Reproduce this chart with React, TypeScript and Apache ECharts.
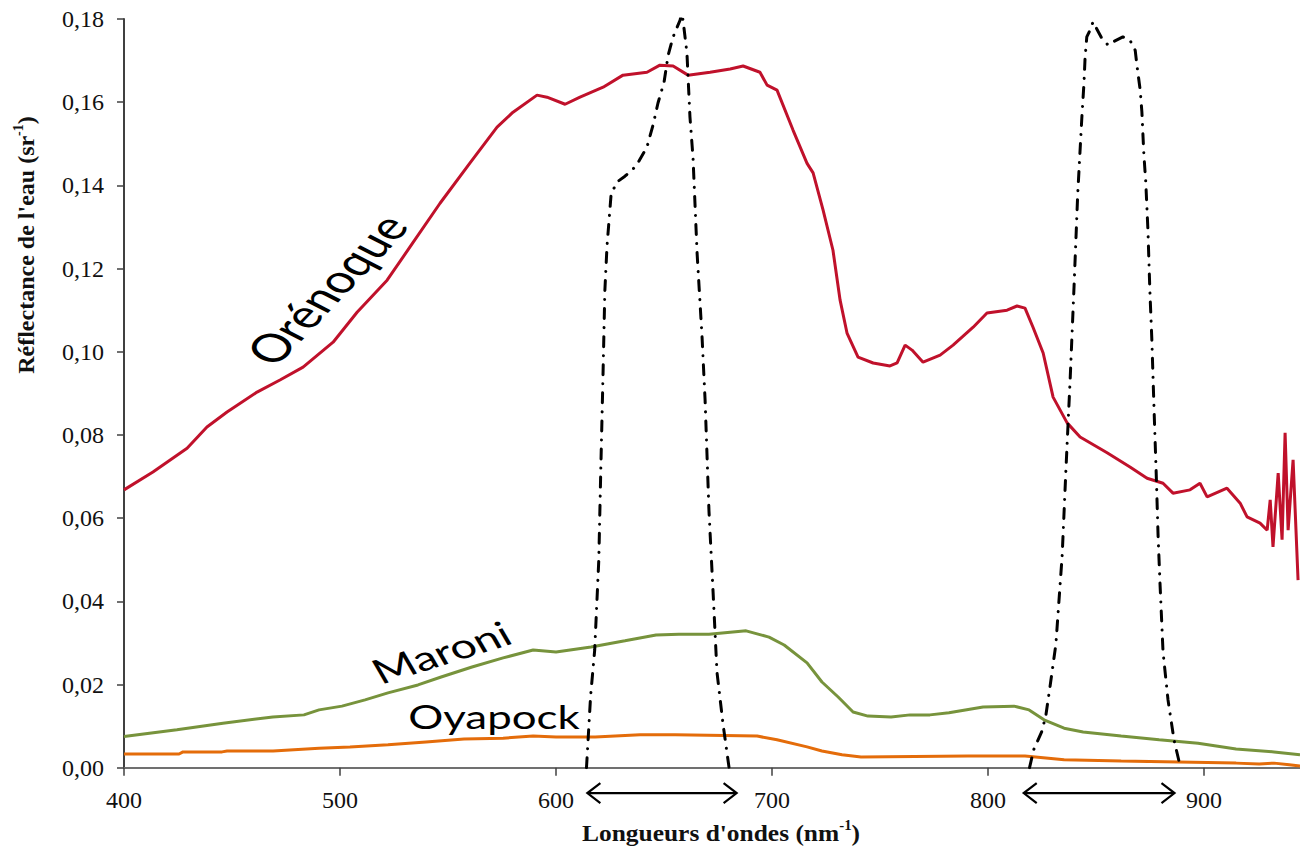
import React, { useEffect, useRef } from "react";
import * as echarts from "echarts";

// Orénoque (red)
const orenoqueNm = [400, 413.4, 429.2, 438.4, 447.7, 461.6, 472.2, 482.9, 496.8, 507.9, 521.8, 532.4, 546.3, 560.2, 572.7, 580.1, 591.2, 595.8, 604.2, 611.1, 621.8, 631.0, 642.1, 648.1, 654.2, 661.1, 671.3, 680.6, 686.6, 694.4, 697.7, 702.3, 709.7, 716.2, 719.0, 723.6, 728.2, 731.5, 734.7, 739.8, 746.8, 754.6, 757.9, 761.6, 764.8, 769.9, 777.8, 783.8, 793.1, 799.5, 808.8, 813.4, 817.1, 820.8, 825.5, 830.1, 836.6, 842.6, 855.1, 865.7, 873.6, 881.0, 885.6, 893.5, 898.1, 901.4, 910.6, 916.7, 919.9, 925.9, 929.2, 930.6, 931.9, 934.3, 936.1, 937.5, 938.9, 941.2, 943.5];
const orenoqueR = [0.0668, 0.0711, 0.0768, 0.0819, 0.0855, 0.0903, 0.0932, 0.0963, 0.1023, 0.1095, 0.1172, 0.1252, 0.1357, 0.1454, 0.1540, 0.1576, 0.1617, 0.1612, 0.1595, 0.1612, 0.1636, 0.1665, 0.1672, 0.1689, 0.1687, 0.1665, 0.1672, 0.1680, 0.1687, 0.1672, 0.1641, 0.1629, 0.1533, 0.1453, 0.1430, 0.1341, 0.1244, 0.1124, 0.1045, 0.0987, 0.0973, 0.0966, 0.0973, 0.1016, 0.1004, 0.0975, 0.0992, 0.1016, 0.1059, 0.1093, 0.1100, 0.1110, 0.1105, 0.1059, 0.0997, 0.0891, 0.0829, 0.0795, 0.0757, 0.0723, 0.0696, 0.0684, 0.0660, 0.0668, 0.0684, 0.0651, 0.0672, 0.0636, 0.0603, 0.0588, 0.0571, 0.0644, 0.0531, 0.0708, 0.0548, 0.0805, 0.0571, 0.0740, 0.0451];

// Maroni (green)
const maroniNm = [400, 424.5, 445.8, 468.9, 483.3, 490.3, 500.9, 511.6, 522.2, 536.1, 546.8, 561.1, 575.5, 589.4, 600.0, 616.2, 631.9, 646.3, 656.9, 670.8, 688.0, 698.6, 705.6, 716.2, 723.1, 730.6, 737.5, 744.4, 755.1, 763.9, 773.1, 781.9, 797.7, 812.0, 819.0, 825.9, 835.2, 844.0, 861.6, 879.2, 897.2, 914.8, 932.4, 944.4];
const maroniR = [0.0075, 0.0091, 0.0107, 0.0122, 0.0127, 0.0139, 0.0148, 0.0163, 0.0180, 0.0199, 0.0218, 0.0242, 0.0264, 0.0283, 0.0278, 0.0290, 0.0305, 0.0319, 0.0321, 0.0321, 0.0329, 0.0314, 0.0295, 0.0252, 0.0206, 0.0170, 0.0134, 0.0124, 0.0122, 0.0127, 0.0127, 0.0132, 0.0146, 0.0148, 0.0139, 0.0115, 0.0095, 0.0086, 0.0076, 0.0067, 0.0059, 0.0045, 0.0038, 0.0031];

// Oyapock (orange)
const oyapockNm = [400, 425.5, 427.3, 445.4, 447.7, 469.0, 490.3, 504.6, 522.2, 539.8, 557.4, 575.5, 589.4, 600.0, 618.1, 638.9, 655.1, 693.1, 702.3, 716.2, 723.1, 732.4, 741.2, 790.7, 817.1, 835.2, 861.6, 914.8, 925.5, 932.4, 939.4, 944.4];
const oyapockR = [0.0033, 0.0033, 0.0038, 0.0038, 0.0040, 0.0040, 0.0047, 0.0050, 0.0055, 0.0062, 0.0069, 0.0071, 0.0076, 0.0074, 0.0074, 0.0079, 0.0079, 0.0076, 0.0067, 0.0050, 0.0040, 0.0031, 0.0026, 0.0028, 0.0028, 0.0019, 0.0016, 0.0011, 0.0009, 0.0011, 0.0007, 0.0004];

// Filter responses (dash-dot, scaled)
const filterRedNm = [614.1, 616.0, 617.9, 619.8, 620.7, 621.7, 622.6, 623.6, 625.5, 628.2, 631.9, 637.0, 642.1, 644.9, 647.2, 650.0, 651.9, 654.2, 657.4, 658.1, 658.8, 660.6, 662.0, 663.4, 665.3, 667.6, 669.0, 670.8, 672.7, 674.5, 677.3, 680.1];
const filterRedR = [0, 0.0172, 0.0283, 0.0500, 0.0713, 0.0934, 0.1147, 0.1254, 0.1379, 0.1408, 0.1422, 0.1446, 0.1492, 0.1545, 0.1598, 0.1648, 0.1713, 0.1757, 0.1797, 0.1812, 0.1797, 0.1718, 0.1564, 0.1468, 0.1237, 0.1035, 0.0884, 0.0617, 0.0422, 0.0230, 0.0105, 0];
const filterNirNm = [819.2, 821.1, 824.8, 826.7, 828.6, 831.4, 834.3, 836.1, 838.0, 839.8, 841.5, 843.4, 844.4, 844.9, 845.7, 847.2, 848.6, 852.6, 855.6, 857.9, 862.4, 865.7, 868.1, 869.0, 870.4, 871.2, 872.1, 873.0, 874.0, 874.9, 875.8, 876.8, 877.8, 878.7, 879.6, 881.0, 883.3, 886.1, 889.1];
const filterNirR = [0, 0.0043, 0.0086, 0.0124, 0.0192, 0.0297, 0.0510, 0.0723, 0.0934, 0.1157, 0.1379, 0.1562, 0.1646, 0.1706, 0.1757, 0.1773, 0.1793, 0.1754, 0.1737, 0.1745, 0.1757, 0.1749, 0.1725, 0.1685, 0.1630, 0.1577, 0.1476, 0.1408, 0.1293, 0.1147, 0.1031, 0.0867, 0.0713, 0.0558, 0.0442, 0.0278, 0.0163, 0.0066, 0];

// Band ranges shown by the double arrows below the axis (nm)
const bandArrows = [
  [614.5, 683.6],
  [816.5, 886.3],
];
const arrowLevel = -0.0061;

const X_MIN = 400;
const X_MAX = 944.4;
const SERIF = "'Liberation Serif', 'Times New Roman', serif";
const SANS = "Lato, 'Open Sans', sans-serif";
const STRETCH = 1.37;

const pairs = (xs: number[], ys: number[]) => xs.map((x, i) => [x, ys[i]]);

export default function App() {
  const ref = useRef<HTMLDivElement>(null);

  useEffect(() => {
    if (!ref.current) return;
    const chart = echarts.init(ref.current, null, { renderer: "svg" });
    const dashStyle = {
      color: "#000",
      width: 3,
      type: [10, 9, 0.1, 9] as any,
      cap: "round" as any,
    };
    chart.setOption({
      animation: false,
      backgroundColor: "#fff",
      textStyle: { fontFamily: SERIF },
      grid: { left: 124, right: 0, top: 19, bottom: 79.3, containLabel: false },
      xAxis: [
        {
          type: "value",
          min: X_MIN,
          max: X_MAX,
          interval: 100,
          axisLine: { show: true, onZero: false, lineStyle: { color: "#404040", width: 2 } },
          axisTick: { show: true, inside: false, length: 8, lineStyle: { color: "#404040", width: 1.5 } },
          axisLabel: { showMaxLabel: false, margin: 20, fontSize: 24, color: "#111", fontFamily: SERIF },
          splitLine: { show: false },
        },
        {
          type: "value",
          position: "top",
          min: X_MIN,
          max: X_MAX,
          interval: 100,
          axisLine: { show: true, lineStyle: { color: "#808080", width: 1.5 } },
          axisTick: { show: false },
          axisLabel: { show: false },
          splitLine: { show: false },
        },
      ],
      yAxis: {
        type: "value",
        min: 0,
        max: 0.18,
        interval: 0.02,
        axisLine: { show: true, onZero: false, lineStyle: { color: "#404040", width: 2 } },
        axisTick: { show: true, inside: false, length: 7, lineStyle: { color: "#404040", width: 1.5 } },
        axisLabel: {
          margin: 20,
          fontSize: 24,
          color: "#111",
          fontFamily: SERIF,
          formatter: (v: number) => v.toFixed(2).replace(".", ","),
        },
        splitLine: { show: false },
      },
      series: [
        {
          name: "Orénoque",
          type: "line",
          data: pairs(orenoqueNm, orenoqueR),
          showSymbol: false,
          symbol: "none",
          lineStyle: { color: "#C0112B", width: 3 },
        },
        {
          name: "Maroni",
          type: "line",
          data: pairs(maroniNm, maroniR),
          showSymbol: false,
          symbol: "none",
          lineStyle: { color: "#77933C", width: 3 },
        },
        {
          name: "Oyapock",
          type: "line",
          data: pairs(oyapockNm, oyapockR),
          showSymbol: false,
          symbol: "none",
          lineStyle: { color: "#E46C0A", width: 3 },
        },
        {
          name: "Filtre rouge",
          type: "line",
          data: pairs(filterRedNm, filterRedR),
          showSymbol: false,
          symbol: "none",
          lineStyle: dashStyle,
        },
        {
          name: "Filtre PIR",
          type: "line",
          data: pairs(filterNirNm, filterNirR),
          showSymbol: false,
          symbol: "none",
          lineStyle: dashStyle,
        },
      ],
    });

    const arrowEls: any[] = [];
    bandArrows.forEach(([a, b]) => {
      const p1 = chart.convertToPixel({ seriesIndex: 0 }, [a, arrowLevel]) as number[];
      const p2 = chart.convertToPixel({ seriesIndex: 0 }, [b, arrowLevel]) as number[];
      const y = p1[1];
      const style = { stroke: "#000", lineWidth: 2.2, fill: null, lineJoin: "miter" };
      arrowEls.push({ type: "polyline", shape: { points: [[p1[0] + 1, y], [p2[0] - 1, y]] }, style });
      arrowEls.push({ type: "polyline", shape: { points: [[p1[0] + 13, y - 10], [p1[0], y], [p1[0] + 13, y + 10]] }, style });
      arrowEls.push({ type: "polyline", shape: { points: [[p2[0] - 13, y - 10], [p2[0], y], [p2[0] - 13, y + 10]] }, style });
    });

    const titleRich = {
      a: { fontFamily: SERIF, fontSize: 24, fontWeight: "bold", fill: "#111", lineHeight: 30 },
      s: { fontFamily: SERIF, fontSize: 14, fontWeight: "bold", fill: "#111", verticalAlign: "top", lineHeight: 30 },
    };

    chart.setOption({
      graphic: [
        ...arrowEls,
        {
          type: "text",
          x: 26,
          y: 245,
          rotation: Math.PI / 2,
          style: {
            text: "{a|Réflectance de l'eau (sr}{s|-1}{a|)}",
            rich: titleRich,
            align: "center",
            verticalAlign: "middle",
          },
        },
        {
          type: "group",
          x: 721,
          y: 833,
          scaleX: 1.06,
          children: [
            {
              type: "text",
              x: 0,
              y: 0,
              style: {
                text: "{a|Longueurs d'ondes (nm}{s|-1}{a|)}",
                rich: titleRich,
                align: "center",
                verticalAlign: "middle",
              },
            },
          ],
        },
        {
          type: "group",
          x: 0,
          y: 0,
          scaleX: STRETCH,
          children: [
            {
              type: "text",
              x: 326 / STRETCH,
              y: 289,
              rotation: (55 * Math.PI) / 180,
              style: { text: "Orénoque", font: `39px ${SANS}`, fill: "#000", align: "center", verticalAlign: "middle" },
            },
            {
              type: "text",
              x: 441 / STRETCH,
              y: 652,
              rotation: (23 * Math.PI) / 180,
              style: { text: "Maroni", font: `34px ${SANS}`, fill: "#000", align: "center", verticalAlign: "middle" },
            },
            {
              type: "text",
              x: 494 / STRETCH,
              y: 716,
              style: { text: "Oyapock", font: `32px ${SANS}`, fill: "#000", align: "center", verticalAlign: "middle" },
            },
          ],
        },
      ],
    });

    return () => chart.dispose();
  }, []);

  return (
    <div
      ref={ref}
      style={{ position: "fixed", left: 0, top: 0, width: 1300, height: 847, background: "#fff" }}
    />
  );
}
